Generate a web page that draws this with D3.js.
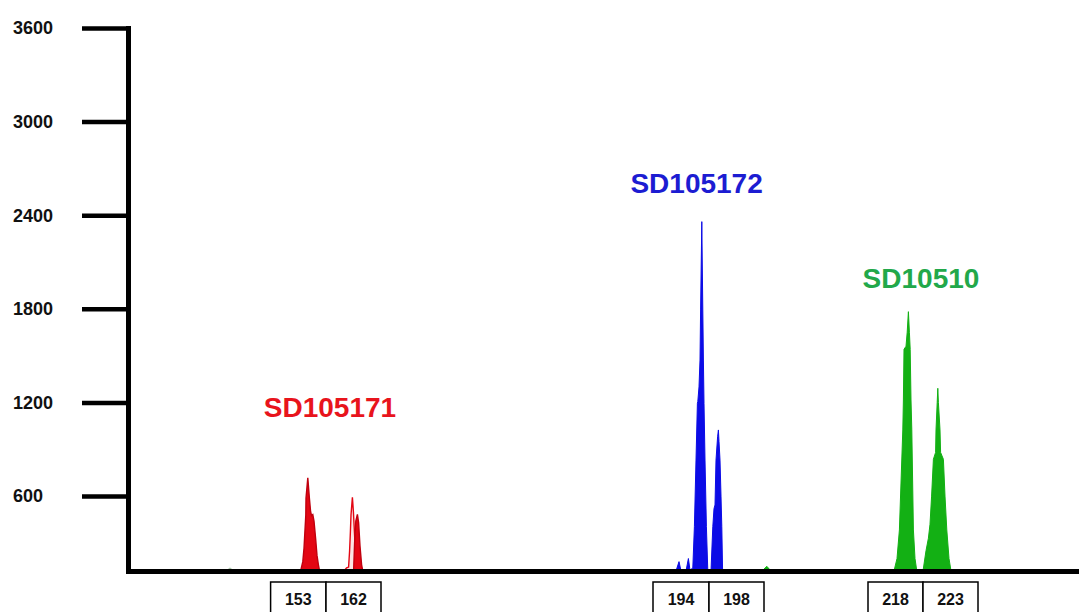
<!DOCTYPE html>
<html>
<head>
<meta charset="utf-8">
<script src="https://cdn.jsdelivr.net/npm/d3@7/dist/d3.min.js"></script>
<style>
  html, body { margin: 0; padding: 0; background: #fff; }
  svg { display: block; font-family: "Liberation Sans", Arial, sans-serif; }
</style>
</head>
<body>
<svg id="chart" width="1079" height="612"></svg>
<script>
// Electropherogram: three microsatellite loci, one dye each.
// x = scan point, y = fluorescence (RFU).

const yTicks = [600, 1200, 1800, 2400, 3000, 3600];

// [scan, RFU] readings for each dye trace
const redMain = [
  [2855, 120], [2865, 130], [2874, 180], [2880, 265], [2889, 479], [2890, 586],
  [2899, 718], [2907, 586], [2913, 500], [2918, 475], [2924, 482], [2930, 440],
  [2938, 330], [2945, 220], [2952, 160], [2958, 120]
];
const redSecondOutline = [
  [3080, 120], [3093, 140], [3103, 145], [3108, 250], [3112, 372], [3115, 479],
  [3122, 592], [3127, 500], [3133, 350], [3138, 200], [3143, 120]
];
const redSecondFill = [
  [3128, 120], [3133, 300], [3139, 440], [3147, 483], [3153, 430], [3160, 280],
  [3168, 160], [3174, 120]
];
const blueTrace = [
  [4740, 120], [4755, 180], [4765, 120], [4790, 120], [4802, 200], [4810, 125],
  [4824, 140], [4832, 404], [4840, 831], [4847, 1195], [4849, 1205], [4855, 1300],
  [4860, 1472], [4863, 1793], [4869, 2359], [4874, 1793], [4877, 1472], [4880, 1195],
  [4885, 831], [4892, 404], [4899, 120], [4915, 120], [4924, 404], [4930, 520],
  [4935, 543], [4940, 831], [4948, 980], [4952, 1024], [4955, 950], [4960, 831],
  [4965, 600], [4969, 404], [4973, 120]
];
const greenTrace = [
  [5170, 120], [5194, 150], [5215, 120],
  [5830, 120], [5845, 200], [5857, 383], [5874, 1024], [5877, 1216], [5880, 1541],
  [5890, 1560], [5896, 1650], [5902, 1782], [5907, 1650], [5911, 1540], [5915, 1216],
  [5919, 1024], [5927, 383], [5935, 200], [5944, 120],
  [5975, 120], [5990, 250], [6002, 330], [6010, 420], [6018, 600], [6027, 836],
  [6038, 880], [6040, 1024], [6046, 1200], [6049, 1291], [6052, 1200], [6060, 1024],
  [6063, 880], [6077, 836], [6085, 600], [6094, 383], [6105, 200], [6115, 120]
];
const noiseTrace = [[2490, 120], [2510, 140], [2530, 120]];

// allele bins shown under the axis: [allele, first scan, last scan]
const bins = [
  [153, 2713, 2990], [162, 2990, 3265],
  [194, 4625, 4905], [198, 4905, 5180],
  [218, 5700, 5975], [223, 5975, 6250]
];

// locus names with their anchor [scan, RFU]
const loci = [
  ["SD105171", 3010, 1107, "red"],
  ["SD105172", 4843, 2543, "blue"],
  ["SD10510", 5965, 1934, "green"]
];

const colors = {
  red: "#e30613", redText: "#e8141c",
  blue: "#0b0be6", blueText: "#1c1cd2",
  green: "#13b014", greenText: "#22a84a"
};

const svg = d3.select("#chart");
const yMin = 120, yMax = 3600;
const x = d3.scaleLinear().domain([2000, 6755]).range([128, 1079]);
const y = d3.scaleLinear().domain([yMin, yMax]).range([571, 28]);

const area = d3.area()
  .x(d => x(d[0]))
  .y0(y(yMin))
  .y1(d => y(d[1]));

const traces = svg.append("g");
traces.append("path").datum(noiseTrace).attr("d", area)
  .attr("fill", "#9bbf9b").attr("stroke", "#9bbf9b").attr("stroke-width", 0.8);
traces.append("path").datum(redMain).attr("d", area)
  .attr("fill", colors.red).attr("stroke", "#c0000e").attr("stroke-width", 1.4);
traces.append("path").datum(redSecondOutline).attr("d", area)
  .attr("fill", "#fde6e6").attr("stroke", colors.red).attr("stroke-width", 1.4);
traces.append("path").datum(redSecondFill).attr("d", area)
  .attr("fill", colors.red).attr("stroke", "#c0000e").attr("stroke-width", 1.4);
traces.append("path").datum(blueTrace).attr("d", area)
  .attr("fill", colors.blue).attr("stroke", colors.blue).attr("stroke-width", 1);
traces.append("path").datum(greenTrace).attr("d", area)
  .attr("fill", colors.green).attr("stroke", colors.green).attr("stroke-width", 1);

// y axis
const yAxis = svg.append("g")
  .attr("transform", `translate(${x.range()[0]},0)`)
  .call(d3.axisLeft(y).tickValues(yTicks).tickSize(46).tickSizeOuter(0).tickFormat(d3.format("d")));
yAxis.select(".domain").attr("stroke", "#000").attr("stroke-width", 5).attr("stroke-linecap", "square");
yAxis.selectAll(".tick line").attr("stroke", "#000").attr("stroke-width", 4.5);
yAxis.selectAll(".tick text")
  .attr("x", 13 - x.range()[0])
  .attr("text-anchor", "start")
  .attr("fill", "#111")
  .style("font-family", "'Liberation Sans', Arial, sans-serif")
  .style("font-size", "18px")
  .style("font-weight", "bold");

// x axis (baseline only)
const xAxis = svg.append("g")
  .attr("transform", `translate(0,${y(yMin)})`)
  .call(d3.axisBottom(x).tickValues([]).tickSizeOuter(0));
xAxis.select(".domain").attr("stroke", "#000").attr("stroke-width", 5).attr("stroke-linecap", "square");

// allele bins
const binTop = y(yMin) + 11;
const binG = svg.append("g").selectAll("g").data(bins).join("g");
binG.append("rect")
  .attr("x", d => x(d[1]))
  .attr("y", binTop)
  .attr("width", d => x(d[2]) - x(d[1]))
  .attr("height", 40)
  .attr("fill", "#fff")
  .attr("stroke", "#000")
  .attr("stroke-width", 1.5);
binG.append("text")
  .attr("x", d => (x(d[1]) + x(d[2])) / 2)
  .attr("y", binTop + 23)
  .attr("text-anchor", "middle")
  .attr("fill", "#111")
  .style("font-size", "16px")
  .style("font-weight", "bold")
  .text(d => d[0]);

// locus names
svg.append("g").selectAll("text").data(loci).join("text")
  .attr("x", d => x(d[1]))
  .attr("y", d => y(d[2]))
  .attr("text-anchor", "middle")
  .attr("fill", d => colors[d[3] + "Text"])
  .style("font-size", "28px")
  .style("font-weight", "bold")
  .text(d => d[0]);
</script>
</body>
</html>
